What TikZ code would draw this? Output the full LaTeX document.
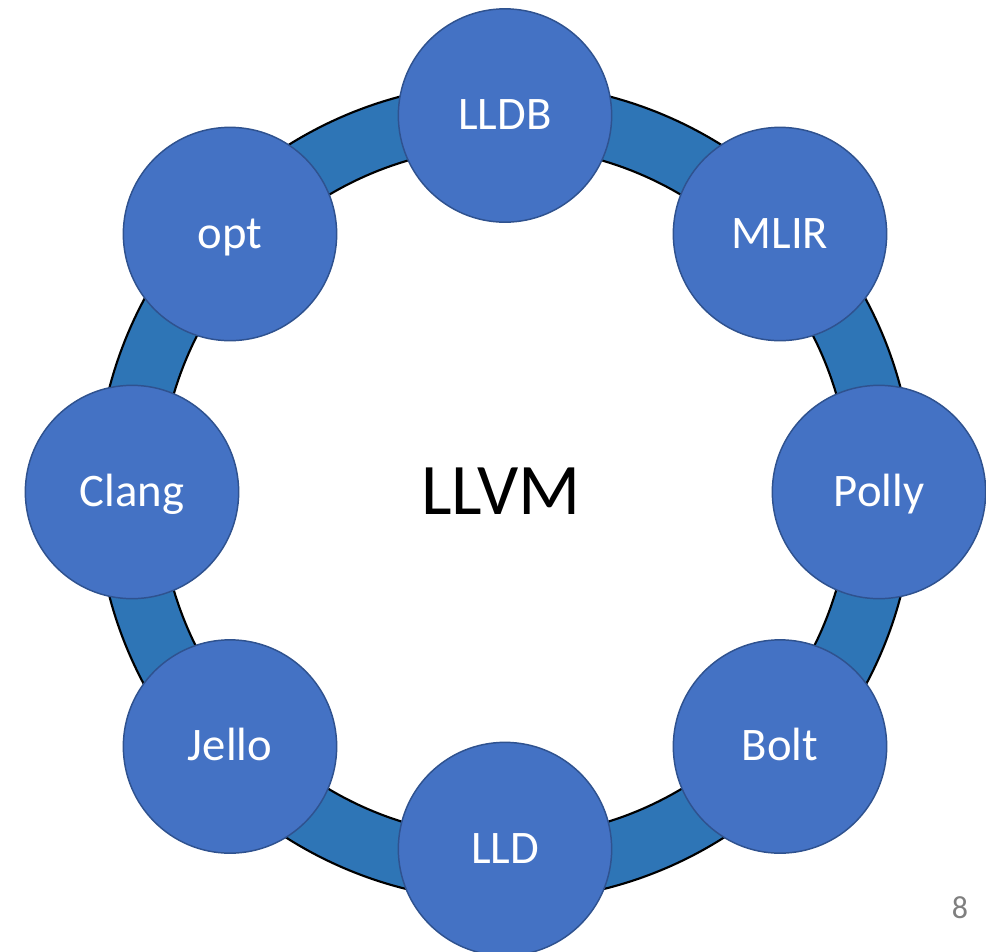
\documentclass[tikz,border=0pt]{standalone}
\usepackage{fontspec}
\setmainfont{Carlito}
\definecolor{nodefill}{HTML}{4472C4}
\definecolor{nodeedge}{HTML}{2F528F}
\definecolor{ringfill}{HTML}{2E75B6}
\definecolor{pagegray}{HTML}{7F7F7F}
\begin{document}
\begin{tikzpicture}[x=0.75pt,y=-0.75pt,
  toolnode/.style={circle, fill=nodefill, draw=nodeedge, line width=1.1pt,
    minimum size=160pt, inner sep=0pt, text=white,
    text height=21.7pt, text depth=0pt,
    font=\fontsize{35}{42}\selectfont},
  ringedge/.style={draw=black, line width=1.6pt}]
\useasboundingbox (0,0) rectangle (986,951);
\coordinate (c) at (505,492);
% ring
\fill[ringfill, even odd rule] (c) circle[radius=306.75pt] (c) circle[radius=259pt];
\draw[ringedge] (c) circle[radius=306.75pt];
\draw[ringedge] (c) circle[radius=259pt];
% center label
\node[text height=33.8pt, text depth=0pt, inner sep=0pt,
  font=\fontsize{54.5}{62}\selectfont] (llvm) at (501,491.5) {LLVM};
% tool nodes
\node[toolnode] (lldb)  at (505,115.5) {LLDB};
\node[toolnode] (mlir)  at (780,234) {MLIR};
\node[toolnode] (polly) at (879,492) {Polly};
\node[toolnode] (bolt)  at (780,746.5) {Bolt};
\node[toolnode] (lld)   at (505,849) {LLD};
\node[toolnode] (jello) at (230,746.5) {Jello};
\node[toolnode] (clang) at (132,492) {Clang};
\node[toolnode] (opt)   at (230,234) {opt};
% page number
\node[text=pagegray, font=\fontsize{24}{28}\selectfont] (page) at (960,908) {8};
\end{tikzpicture}
\end{document}
